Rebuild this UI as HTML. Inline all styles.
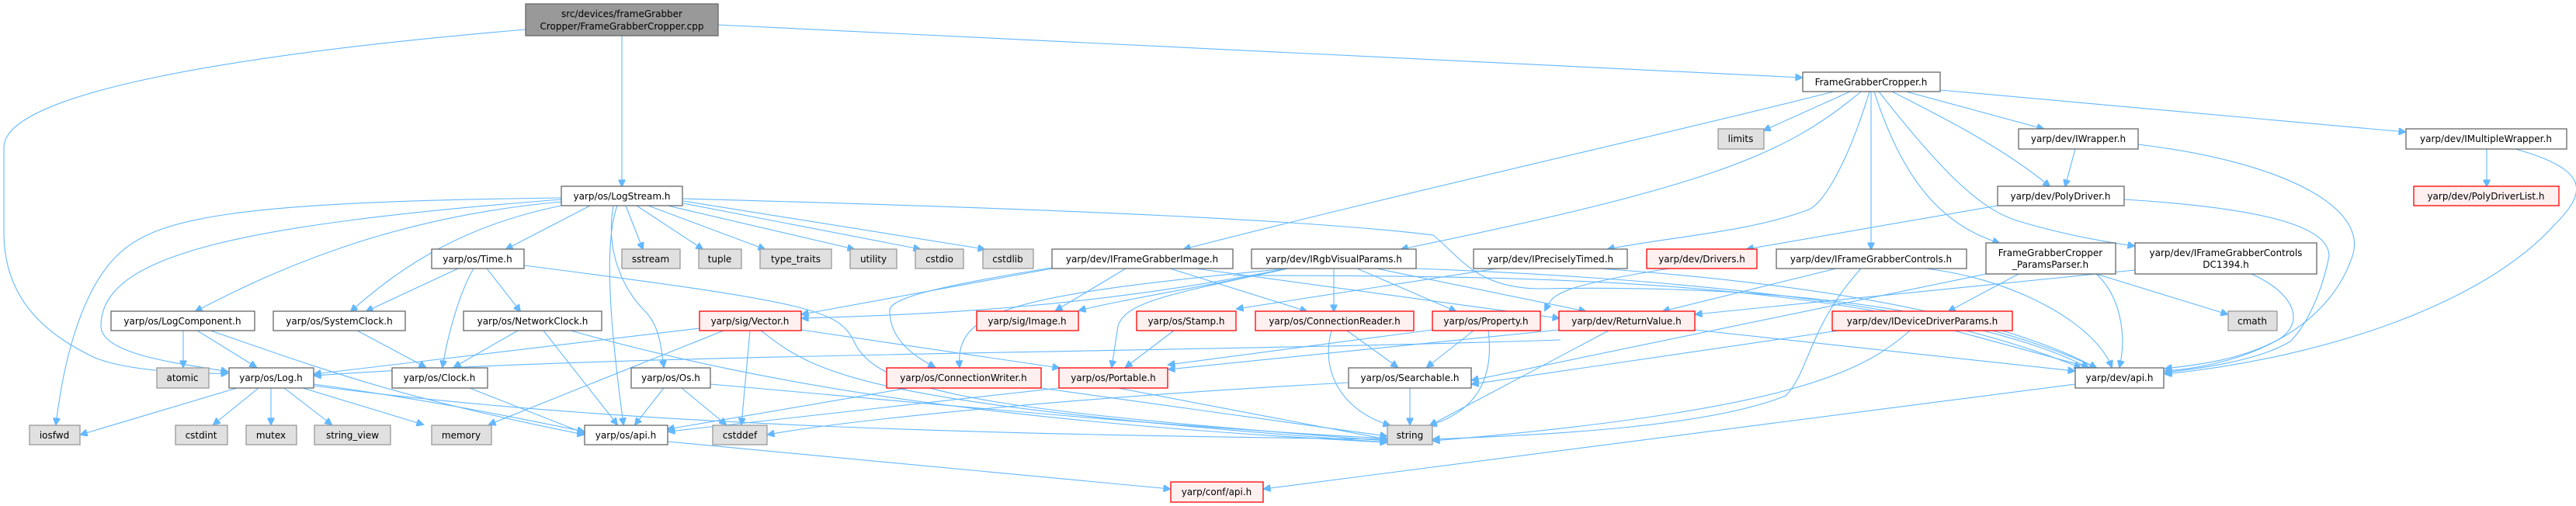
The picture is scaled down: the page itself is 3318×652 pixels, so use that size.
<!DOCTYPE html>
<html><head><meta charset="utf-8"><style>
html,body{margin:0;padding:0;background:#fff}
svg{display:block}
text{font-family:"DejaVu Sans","Liberation Sans",sans-serif;font-size:12px;fill:#000;text-anchor:middle}
.n{fill:#fff;stroke:#666;stroke-width:1.3}
.g{fill:#e0e0e0;stroke:#999;stroke-width:1.3}
.r{fill:#fff0f0;stroke:#ff0000;stroke-width:1.3}
.m{fill:#999;stroke:#666;stroke-width:1.3}
path{fill:none;stroke:#63b8ff;stroke-width:1.1}
</style></head><body>
<svg width="3318" height="652" viewBox="0 0 3318 652" xmlns="http://www.w3.org/2000/svg">
<defs><marker id="a" viewBox="0 0 10 10" refX="9" refY="5" markerWidth="11" markerHeight="9" markerUnits="userSpaceOnUse" orient="auto"><path d="M0,0 L10,5 L0,10 z" style="fill:#63b8ff;stroke:#63b8ff"/></marker></defs>
<g marker-end="url(#a)">
<path d="M801,46 L801,240"/>
<path d="M677,38 C300,70 5,120 5,190 L5,300 C5,400 80,440 120,460 C160,478 250,482 293,481"/>
<path d="M925,32 L2321,100"/>
<path d="M723,255 C300,260 200,280 150,330 C100,380 80,480 72,547"/>
<path d="M723,257 C300,290 130,330 130,420 C130,460 250,470 293,479"/>
<path d="M723,260 C500,280 350,350 252,401"/>
<path d="M723,265 C600,290 520,340 452,401"/>
<path d="M760,265 L652,321"/>
<path d="M795,265 C775,320 790,450 803,547"/>
<path d="M790,265 C780,320 800,370 830,400 C850,420 852,450 855,473"/>
<path d="M806,265 L828,321"/>
<path d="M820,265 L905,321"/>
<path d="M835,265 L985,321"/>
<path d="M860,265 L1100,321"/>
<path d="M880,262 L1185,321"/>
<path d="M880,259 L1268,321"/>
<path d="M879,256 C1400,270 1700,285 1846,303 C1880,330 1900,370 1980,372 C2200,368 2500,380 2700,474"/>
<path d="M590,346 L472,401"/>
<path d="M610,346 C590,380 575,440 570,473"/>
<path d="M627,346 L670,401"/>
<path d="M675,342 C1050,390 1080,400 1100,440 C1130,510 1300,530 1786,568"/>
<path d="M236,426 L236,473"/>
<path d="M254,426 L330,473"/>
<path d="M271,426 C400,470 500,510 752,560"/>
<path d="M460,426 L548,473"/>
<path d="M667,426 L585,473"/>
<path d="M700,426 L795,547"/>
<path d="M735,426 C1000,500 1300,545 1786,570"/>
<path d="M605,500 L752,558"/>
<path d="M305,500 L104,560"/>
<path d="M333,500 L275,547"/>
<path d="M349,500 L349,547"/>
<path d="M366,500 L427,547"/>
<path d="M390,500 L545,547"/>
<path d="M404,495 C550,515 650,535 752,556"/>
<path d="M404,497 C800,550 1300,560 1786,566"/>
<path d="M901,423 L405,482"/>
<path d="M2010,438 C1500,455 800,455 405,484"/>
<path d="M932,426 L630,547"/>
<path d="M966,426 L955,547"/>
<path d="M980,426 C1050,480 1100,520 1786,570"/>
<path d="M1032,425 L1364,474"/>
<path d="M855,500 L818,547"/>
<path d="M878,500 L935,547"/>
<path d="M915,495 C1200,520 1500,550 1786,565"/>
<path d="M1170,500 L860,553"/>
<path d="M1341,500 L1786,562"/>
<path d="M860,569 L1507,630"/>
<path d="M1364,500 L861,556"/>
<path d="M1440,500 L1786,566"/>
<path d="M1737,493 C1400,511 1100,540 989,560"/>
<path d="M1816,500 L1816,547"/>
<path d="M1512,426 L1450,473"/>
<path d="M1735,426 L1800,473"/>
<path d="M1715,426 C1700,480 1730,530 1790,548"/>
<path d="M1898,426 L1838,473"/>
<path d="M1917,426 C1925,490 1900,530 1842,548"/>
<path d="M1845,425 L1505,470"/>
<path d="M2072,426 L1842,548"/>
<path d="M2183,425 L2672,478"/>
<path d="M2008,425 L1505,476"/>
<path d="M1355,346 L1033,405"/>
<path d="M1659,346 C1400,397 1200,405 1033,410"/>
<path d="M1450,346 L1360,400"/>
<path d="M1659,346 C1550,370 1450,385 1390,400"/>
<path d="M1355,345 C1200,370 1146,385 1146,400 C1146,440 1180,460 1204,473"/>
<path d="M1507,346 L1683,401"/>
<path d="M1540,346 L2008,410"/>
<path d="M1588,355 C2000,355 2400,360 2680,474"/>
<path d="M1718,346 L1718,401"/>
<path d="M1748,346 L1875,401"/>
<path d="M1773,346 L2042,401"/>
<path d="M1659,346 C1500,380 1450,390 1440,420 L1432,473"/>
<path d="M1659,346 C1300,380 1230,400 1236,473"/>
<path d="M1824,346 C2200,360 2550,400 2690,474"/>
<path d="M1928,346 L1593,398"/>
<path d="M2060,346 C2400,370 2600,420 2700,474"/>
<path d="M2383,118 L2272,168"/>
<path d="M2362,118 C2200,160 1800,250 1525,321"/>
<path d="M2397,118 C2300,200 2200,240 1805,321"/>
<path d="M2408,118 C2380,210 2350,260 2330,270 C2250,300 2150,305 2071,321"/>
<path d="M2410,118 L2410,321"/>
<path d="M2414,118 C2450,230 2500,290 2575,313"/>
<path d="M2420,118 C2500,220 2550,270 2600,285 C2650,300 2700,310 2749,317"/>
<path d="M2455,118 L2632,166"/>
<path d="M2437,118 C2500,150 2580,190 2640,240"/>
<path d="M2499,116 L3098,170"/>
<path d="M2673,192 L2660,240"/>
<path d="M2754,186 C2950,210 3050,270 3030,330 C3000,420 2900,470 2789,478"/>
<path d="M3203,192 L3203,240"/>
<path d="M3240,192 C3340,220 3330,250 3290,290 C3200,390 3000,460 2789,482"/>
<path d="M2573,265 L2250,321"/>
<path d="M2736,257 C2950,270 3000,300 3000,330 C2990,380 2970,420 2950,440 C2900,470 2800,478 2789,480"/>
<path d="M2150,346 C2000,370 2000,380 1990,400"/>
<path d="M2365,346 L2142,401"/>
<path d="M2397,346 C2330,420 2330,480 2300,510 C2200,550 2000,560 1846,566"/>
<path d="M2480,346 C2600,360 2700,420 2720,473"/>
<path d="M2600,353 L2510,401"/>
<path d="M2700,353 L2869,405"/>
<path d="M2700,353 C2730,380 2740,430 2730,473"/>
<path d="M2558,353 L1896,490"/>
<path d="M2900,353 C2960,380 2970,420 2930,440 C2880,465 2830,470 2789,475"/>
<path d="M2750,348 L2184,405"/>
<path d="M2517,426 L2690,473"/>
<path d="M2460,426 C2400,480 2300,530 1846,568"/>
<path d="M2368,426 L1896,495"/>
<path d="M2673,495 L1628,630"/>
</g>
<rect class="m" x="677" y="5" width="248" height="41"/><text x="801" y="22">src/devices/frameGrabber</text><text x="801" y="38">Cropper/FrameGrabberCropper.cpp</text>
<rect class="n" x="723" y="240" width="156" height="25"/><text x="801" y="257">yarp/os/LogStream.h</text>
<rect class="n" x="2322" y="93" width="177" height="25"/><text x="2410" y="110">FrameGrabberCropper.h</text>
<rect class="g" x="2213" y="166" width="59" height="26"/><text x="2242" y="183">limits</text>
<rect class="n" x="2600" y="166" width="154" height="26"/><text x="2677" y="183">yarp/dev/IWrapper.h</text>
<rect class="n" x="3099" y="166" width="207" height="26"/><text x="3202" y="183">yarp/dev/IMultipleWrapper.h</text>
<rect class="n" x="2573" y="240" width="163" height="25"/><text x="2654" y="257">yarp/dev/PolyDriver.h</text>
<rect class="r" x="3109" y="240" width="187" height="25"/><text x="3202" y="257">yarp/dev/PolyDriverList.h</text>
<rect class="n" x="556" y="321" width="119" height="25"/><text x="615" y="338">yarp/os/Time.h</text>
<rect class="g" x="801" y="321" width="75" height="25"/><text x="838" y="338">sstream</text>
<rect class="g" x="900" y="321" width="55" height="25"/><text x="927" y="338">tuple</text>
<rect class="g" x="979" y="321" width="92" height="25"/><text x="1025" y="338">type_traits</text>
<rect class="g" x="1095" y="321" width="60" height="25"/><text x="1125" y="338">utility</text>
<rect class="g" x="1179" y="321" width="62" height="25"/><text x="1210" y="338">cstdio</text>
<rect class="g" x="1266" y="321" width="65" height="25"/><text x="1298" y="338">cstdlib</text>
<rect class="n" x="1355" y="321" width="233" height="25"/><text x="1471" y="338">yarp/dev/IFrameGrabberImage.h</text>
<rect class="n" x="1612" y="321" width="212" height="25"/><text x="1718" y="338">yarp/dev/IRgbVisualParams.h</text>
<rect class="n" x="1898" y="321" width="198" height="25"/><text x="1997" y="338">yarp/dev/IPreciselyTimed.h</text>
<rect class="r" x="2121" y="321" width="142" height="25"/><text x="2192" y="338">yarp/dev/Drivers.h</text>
<rect class="n" x="2288" y="321" width="245" height="25"/><text x="2410" y="338">yarp/dev/IFrameGrabberControls.h</text>
<rect class="n" x="2558" y="313" width="167" height="40"/><text x="2641" y="330">FrameGrabberCropper</text><text x="2641" y="345">_ParamsParser.h</text>
<rect class="n" x="2750" y="313" width="234" height="40"/><text x="2867" y="330">yarp/dev/IFrameGrabberControls</text><text x="2867" y="345">DC1394.h</text>
<rect class="n" x="143" y="401" width="185" height="25"/><text x="235" y="418">yarp/os/LogComponent.h</text>
<rect class="n" x="352" y="401" width="170" height="25"/><text x="437" y="418">yarp/os/SystemClock.h</text>
<rect class="n" x="597" y="401" width="178" height="25"/><text x="686" y="418">yarp/os/NetworkClock.h</text>
<rect class="r" x="901" y="401" width="131" height="25"/><text x="966" y="418">yarp/sig/Vector.h</text>
<rect class="r" x="1258" y="401" width="131" height="25"/><text x="1323" y="418">yarp/sig/Image.h</text>
<rect class="r" x="1464" y="401" width="128" height="25"/><text x="1528" y="418">yarp/os/Stamp.h</text>
<rect class="r" x="1617" y="401" width="204" height="25"/><text x="1719" y="418">yarp/os/ConnectionReader.h</text>
<rect class="r" x="1845" y="401" width="139" height="25"/><text x="1914" y="418">yarp/os/Property.h</text>
<rect class="r" x="2008" y="401" width="175" height="25"/><text x="2095" y="418">yarp/dev/ReturnValue.h</text>
<rect class="r" x="2360" y="401" width="232" height="25"/><text x="2476" y="418">yarp/dev/IDeviceDriverParams.h</text>
<rect class="g" x="2870" y="401" width="63" height="25"/><text x="2901" y="418">cmath</text>
<rect class="g" x="202" y="474" width="67" height="26"/><text x="235" y="491">atomic</text>
<rect class="n" x="295" y="474" width="109" height="26"/><text x="349" y="491">yarp/os/Log.h</text>
<rect class="n" x="505" y="474" width="123" height="26"/><text x="566" y="491">yarp/os/Clock.h</text>
<rect class="n" x="813" y="474" width="102" height="26"/><text x="864" y="491">yarp/os/Os.h</text>
<rect class="r" x="1142" y="474" width="199" height="26"/><text x="1241" y="491">yarp/os/ConnectionWriter.h</text>
<rect class="r" x="1364" y="474" width="140" height="26"/><text x="1434" y="491">yarp/os/Portable.h</text>
<rect class="n" x="1737" y="474" width="158" height="26"/><text x="1816" y="491">yarp/os/Searchable.h</text>
<rect class="n" x="2673" y="474" width="114" height="26"/><text x="2730" y="491">yarp/dev/api.h</text>
<rect class="g" x="38" y="548" width="65" height="25"/><text x="70" y="565">iosfwd</text>
<rect class="g" x="226" y="548" width="67" height="25"/><text x="259" y="565">cstdint</text>
<rect class="g" x="317" y="548" width="65" height="25"/><text x="349" y="565">mutex</text>
<rect class="g" x="405" y="548" width="98" height="25"/><text x="454" y="565">string_view</text>
<rect class="g" x="556" y="548" width="77" height="25"/><text x="594" y="565">memory</text>
<rect class="n" x="753" y="548" width="107" height="25"/><text x="806" y="565">yarp/os/api.h</text>
<rect class="g" x="918" y="548" width="70" height="25"/><text x="953" y="565">cstddef</text>
<rect class="g" x="1787" y="548" width="58" height="25"/><text x="1816" y="565">string</text>
<rect class="r" x="1508" y="621" width="119" height="26"/><text x="1567" y="638">yarp/conf/api.h</text>
</svg>
</body></html>
